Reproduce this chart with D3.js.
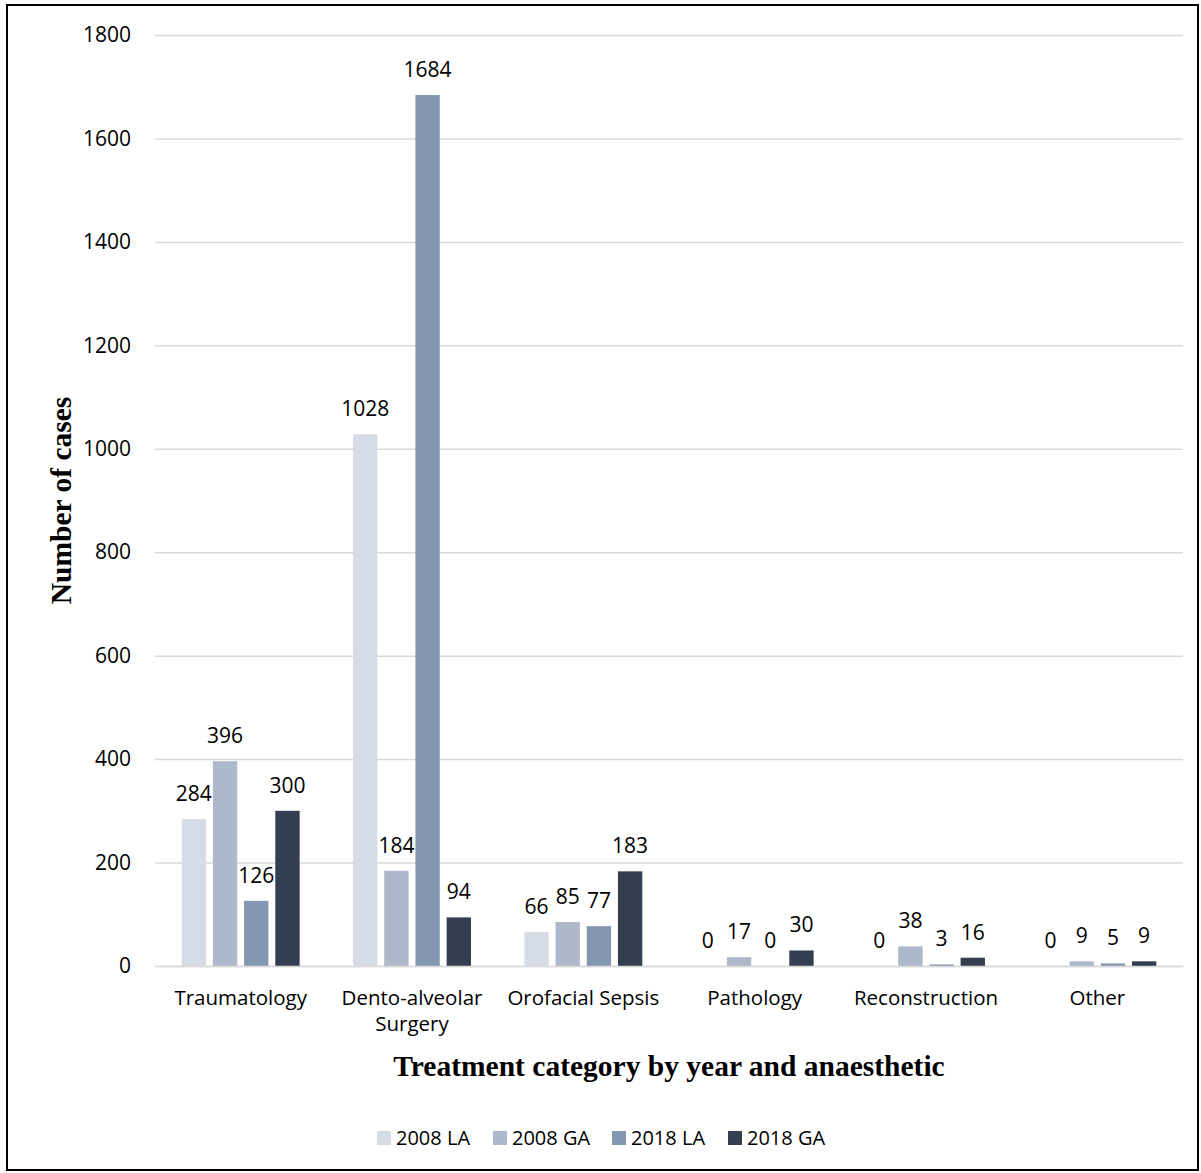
<!DOCTYPE html>
<html><head><meta charset="utf-8">
<script src="https://cdn.jsdelivr.net/npm/d3@7"></script>
<style>body{margin:0;background:#fff}svg{display:block}</style>
</head><body><svg id="c" width="1201" height="1173"></svg>
<script>
const categories = ["Traumatology", "Dento-alveolar Surgery", "Orofacial Sepsis", "Pathology", "Reconstruction", "Other"];
const seriesNames = ["2008 LA", "2008 GA", "2018 LA", "2018 GA"];
const la2008 = [284, 1028, 66, 0, 0, 0];
const ga2008 = [396, 184, 85, 17, 38, 9];
const la2018 = [126, 1684, 77, 0, 3, 5];
const ga2018 = [300, 94, 183, 30, 16, 9];
const yTicks = [0, 200, 400, 600, 800, 1000, 1200, 1400, 1600, 1800];
const colors = ["#D6DCE5", "#ADB9CA", "#8497B0", "#333F50"];

(function () {
const series = [la2008, ga2008, la2018, ga2018];
const svg = d3.select("#c");
const font = "'Open Sans', sans-serif";
const pLeft = 155, pRight = 1183, pTop = 35, pBottom = 966;

svg.append("rect").attr("x", 7).attr("y", 5).attr("width", 1191).attr("height", 1165)
  .attr("fill", "none").attr("stroke", "#000").attr("stroke-width", 2);

const y = d3.scaleLinear().domain([0, 1800]).range([pBottom, pTop]);
const x0 = d3.scaleBand().domain(categories).range([pLeft, pRight]).padding(0);
const x1 = d3.scaleBand().domain(seriesNames).range([0, x0.bandwidth()]).paddingInner(0.22).paddingOuter(0.856);

// gridlines
const yAxis = d3.axisLeft(y).tickValues(yTicks).tickSize(-(pRight - pLeft)).tickFormat(d3.format("d"));
const ga = svg.append("g").attr("transform", `translate(${pLeft},0)`).call(yAxis);
ga.select(".domain").remove();
ga.selectAll(".tick line").attr("stroke", "#D9D9D9").attr("stroke-width", 1.5);
ga.selectAll(".tick text").attr("x", -24).attr("font-family", font).attr("font-size", 21).attr("fill", "#000");

// bars
const rows = (c, i) => series.map((s, k) => ({name: seriesNames[k], v: s[i], k}));
const groups = svg.append("g").selectAll("g").data(categories).join("g")
  .attr("transform", d => `translate(${x0(d)},0)`);
groups.selectAll("rect").data(rows)
  .join("rect")
  .attr("x", d => x1(d.name)).attr("width", x1.bandwidth())
  .attr("y", d => y(d.v)).attr("height", d => y(0) - y(d.v))
  .attr("fill", d => colors[d.k]);
groups.selectAll("text.lbl").data(rows)
  .join("text").attr("class", "lbl")
  .attr("x", d => x1(d.name) + x1.bandwidth() / 2).attr("y", d => y(d.v) - 18)
  .attr("text-anchor", "middle").attr("font-family", font).attr("font-size", 21).attr("fill", "#000")
  .text(d => d.v);

// x axis line
const xAxis = d3.axisBottom(x0).tickSize(0).tickFormat("");
const gx = svg.append("g").attr("transform", `translate(0,${pBottom})`).call(xAxis);
gx.select(".domain").attr("stroke", "#D9D9D9").attr("stroke-width", 1.5);
const catLines = {"Dento-alveolar Surgery": ["Dento-alveolar", "Surgery"]};
gx.selectAll(".tick").each(function(d) {
  const t = d3.select(this).select("text");
  t.text(null).attr("y", 0).attr("dy", null).attr("font-family", font).attr("font-size", 20.5).attr("fill", "#000");
  const lines = catLines[d] || [d];
  lines.forEach((l, i) => t.append("tspan").attr("x", 0).attr("y", 39 + i * 26).text(l));
});

// axis titles
svg.append("text").attr("transform", `translate(71,${(pTop + pBottom) / 2}) rotate(-90)`)
  .attr("text-anchor", "middle").attr("font-family", "'Liberation Serif', serif").attr("font-weight", "bold")
  .attr("font-size", 29.5).text("Number of cases");
svg.append("text").attr("x", 669).attr("y", 1076)
  .attr("text-anchor", "middle").attr("font-family", "'Liberation Serif', serif").attr("font-weight", "bold")
  .attr("font-size", 29.5).text("Treatment category by year and anaesthetic");

// legend
const legX = [377, 493, 612, 728];
const leg = svg.append("g").selectAll("g").data(seriesNames).join("g")
  .attr("transform", (d, i) => `translate(${legX[i]},1131)`);
leg.append("rect").attr("width", 14).attr("height", 14).attr("fill", (d, i) => colors[i]);
leg.append("text").attr("x", 19).attr("y", 14).attr("font-family", font).attr("font-size", 20).attr("fill", "#000").text(d => d);
})();
</script></body></html>
